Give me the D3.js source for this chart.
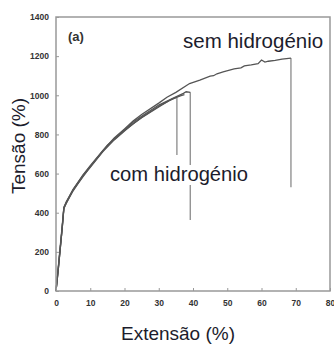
<!DOCTYPE html>
<html lang="en">
<head>
	<title>Tensao vs Extensao</title>
	<script src="https://d3js.org/d3.v7.min.js" charset="utf-8"></script>
	<style>
		body { margin: 0; background: #fff; }
		text { font-family: Arial, "Liberation Sans", sans-serif; }
	</style>
</head>
<body>
	<script>

	var width = 334, height = 347

	var xTicks = [0, 10, 20, 30, 40, 50, 60, 70, 80]
	var yTicks = [0, 200, 400, 600, 800, 1000, 1200, 1400]

	// curva sem hidrogenio (extensao %, tensao)
	var semStrain = [0, 0.6, 1.2, 1.8, 2.3, 3, 5, 7.9, 10, 13.7, 17, 20, 22.5, 25, 30, 32.4, 35, 39, 42, 45, 46, 47, 48.8, 52, 54, 55, 57, 59, 60, 61, 62, 64, 66, 68.6]
	var semStress = [0, 100, 210, 320, 425, 455, 520, 593, 640, 718, 782, 828, 868, 902, 960, 990, 1015, 1060, 1078, 1098, 1100, 1110, 1119, 1135, 1140, 1150, 1155, 1162, 1180, 1170, 1174, 1178, 1185, 1190]
	var semBreak = [68.6, 530]

	// curvas com hidrogenio
	var comAStrain = [0, 0.6, 1.2, 1.8, 2.3, 3, 5, 7.9, 10, 13.7, 17, 20, 22.5, 25, 30, 33, 35.3]
	var comAStress = [0, 100, 210, 320, 420, 450, 512, 588, 632, 712, 772, 818, 855, 885, 940, 972, 990]
	var comABreak = [35.3, 695]

	var comBStrain = [0, 0.6, 1.2, 1.8, 2.3, 3, 5, 7.9, 10, 13.7, 17, 20, 22.5, 25, 30, 35, 37.2, 38, 39.2]
	var comBStress = [0, 100, 210, 320, 428, 455, 518, 592, 637, 716, 778, 824, 862, 893, 950, 992, 1010, 1018, 1015]
	var comBBreak = [39.2, 363]

	var comCStrain = [0, 2.3, 5, 10, 15, 20, 25, 30, 34, 36.5, 37.5]
	var comCStress = [0, 424, 515, 634, 745, 820, 887, 944, 982, 998, 1003]

	var x = d3.scaleLinear().domain([0, 80]).range([56, 330])
	var y = d3.scaleLinear().domain([0, 1400]).range([291, 17])

	var svg = d3.select("body").append("svg")
		.attr("width", width)
		.attr("height", height)

	var line = d3.line()
		.x(function(d){ return x(d[0]) })
		.y(function(d){ return y(d[1]) })

	function pts(a, b){ return a.map(function(v, i){ return [v, b[i]] }) }

	var curves = [
		{ data: pts(semStrain, semStress), brk: semBreak },
		{ data: pts(comAStrain, comAStress), brk: comABreak },
		{ data: pts(comBStrain, comBStress), brk: comBBreak },
		{ data: pts(comCStrain, comCStress), brk: null }
	]

	// drops at rupture
	curves.forEach(function(c){
		if (!c.brk) return
		var last = c.data[c.data.length - 1]
		svg.append("path")
			.attr("d", line([last, c.brk]))
			.attr("fill", "none")
			.attr("stroke", "#8a8a8a")
			.attr("stroke-width", 1.3)
	})

	curves.forEach(function(c){
		svg.append("path")
			.attr("d", line(c.data))
			.attr("fill", "none")
			.attr("stroke", "#555")
			.attr("stroke-width", 1.3)
	})

	// frame
	svg.append("rect")
		.attr("x", x(0)).attr("y", y(1400))
		.attr("width", x(80) - x(0)).attr("height", y(0) - y(1400))
		.attr("fill", "none")
		.attr("stroke", "#999")
		.attr("stroke-width", 1.5)

	var xAxis = svg.append("g")
		.attr("transform", "translate(0," + y(0) + ")")
		.call(d3.axisBottom(x).tickValues(xTicks).tickFormat(d3.format("d")).tickSize(-3).tickPadding(9))
	var yAxis = svg.append("g")
		.attr("transform", "translate(" + x(0) + ",0)")
		.call(d3.axisLeft(y).tickValues(yTicks).tickFormat(d3.format("d")).tickSize(-3).tickPadding(7))

	;[xAxis, yAxis].forEach(function(g){
		g.select(".domain").remove()
		g.selectAll(".tick line").attr("stroke", "#999")
		g.selectAll(".tick text")
			.attr("fill", "#333")
			.style("font-size", "8.5px")
			.style("font-weight", "bold")
			.style("font-family", "Arial, 'Liberation Sans', sans-serif")
	})

	svg.append("text")
		.attr("x", 68).attr("y", 41)
		.attr("fill", "#333")
		.style("font-size", "13px")
		.style("font-weight", "bold")
		.text("(a)")

	svg.append("text")
		.attr("x", 183).attr("y", 48)
		.attr("fill", "#1c1c2c")
		.style("font-size", "20.5px")
		.text("sem hidrogénio")

	var com = svg.append("g")
	var comText = com.append("text")
		.attr("x", 110).attr("y", 181)
		.attr("fill", "#1c1c2c")
		.style("font-size", "20.2px")
		.text("com hidrogénio")
	var bb = comText.node().getBBox()
	com.insert("rect", "text")
		.attr("x", bb.x - 2).attr("y", bb.y + 2)
		.attr("width", bb.width + 4).attr("height", bb.height - 2)
		.attr("fill", "#fff")

	svg.append("text")
		.attr("x", 178).attr("y", 340)
		.attr("text-anchor", "middle")
		.attr("fill", "#1c1c2c")
		.style("font-size", "19px")
		.text("Extensão (%)")

	svg.append("text")
		.attr("transform", "translate(25,146) rotate(-90)")
		.attr("text-anchor", "middle")
		.attr("fill", "#1c1c2c")
		.style("font-size", "19px")
		.text("Tensão (%)")

	</script>
</body>
</html>
